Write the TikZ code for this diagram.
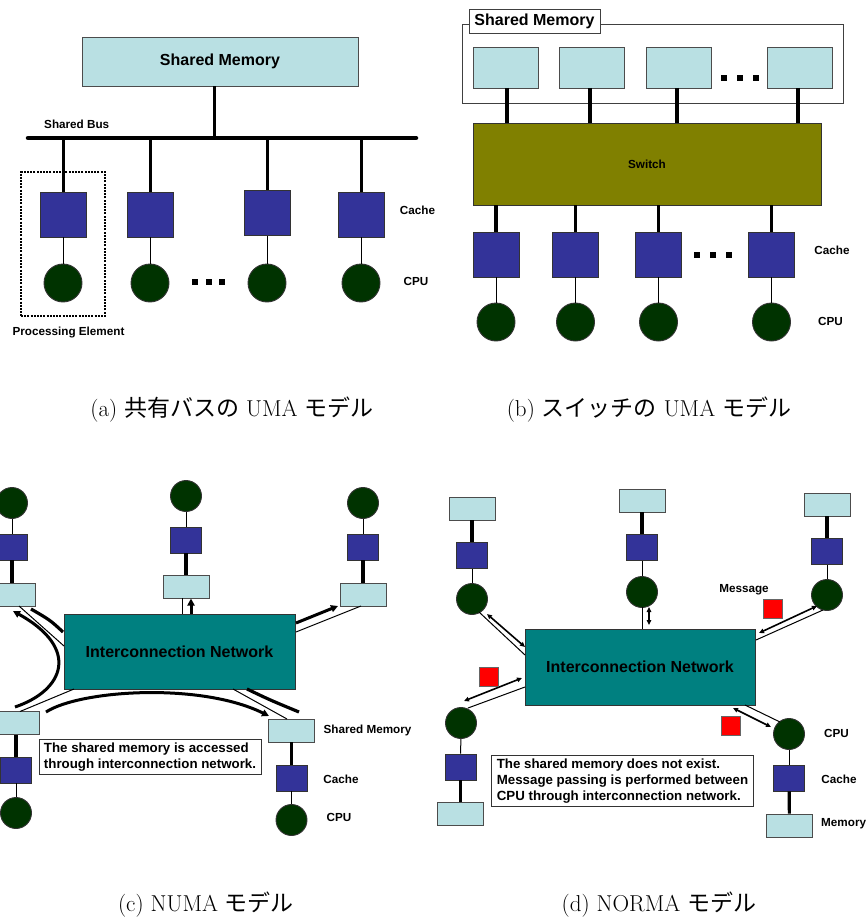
\documentclass[tikz,border=0pt]{standalone}
\usepackage{fontspec}
\newfontfamily\lab{Liberation Sans}
\newfontfamily\cjk{Noto Sans CJK JP}
\usetikzlibrary{arrows.meta}
\definecolor{memc}{RGB}{185,224,227}
\definecolor{cachec}{RGB}{51,51,153}
\definecolor{cpuc}{RGB}{0,51,0}
\definecolor{swc}{RGB}{128,128,0}
\definecolor{netc}{RGB}{0,128,128}
\tikzset{
 mem/.style={draw=black!70, fill=memc, line width=0.9pt, inner sep=0pt},
 cache/.style={draw=black!80, fill=cachec, line width=0.9pt, inner sep=0pt},
 cpu/.style={circle, draw=black!80, fill=cpuc, line width=0.9pt, inner sep=0pt},
 smem/.style={mem, minimum width=46pt, minimum height=23pt},
 scache/.style={cache, minimum width=31pt, minimum height=26pt},
 scpu/.style={cpu, minimum size=31pt},
 lbl/.style={font=\lab\bfseries\fontsize{11.7}{14}\selectfont, inner sep=0pt},
 big/.style={font=\lab\bfseries\fontsize{16}{19}\selectfont},
 note/.style={draw=black!80, fill=white, line width=0.9pt, font=\lab\bfseries\fontsize{13.3}{16}\selectfont, align=left, inner xsep=5pt, inner ysep=3pt},
 dotsq/.style={fill=black, minimum size=6pt, inner sep=0pt},
 fat/.style={line width=3.2pt},
 slim/.style={line width=1pt},
 fatarrow/.style={line width=3pt, -{Triangle[length=7pt,width=7pt]}},
 dblarrow/.style={line width=1.6pt, {Triangle[length=5pt,width=4.5pt]}-{Triangle[length=5pt,width=4.5pt]}},
 capt/.style={font=\fontsize{23}{27}\selectfont, inner sep=0pt},
 redsq/.style={draw=black!60, fill=red, minimum size=19pt, inner sep=0pt, line width=0.6pt},
}
\begin{document}
\begin{tikzpicture}[x=1pt,y=-1pt]
\useasboundingbox (0,0) rectangle (866,920);
\begin{scope}
\clip (0,0) rectangle (866,920);
% ================= (a) =================
\node[mem, big, minimum width=276pt, minimum height=49pt] (smA) at (220,61.5) {Shared Memory};
\coordinate (busL) at (28,138);
\coordinate (busR) at (416,138);
\coordinate (busJ) at (214,138);
\draw[line width=3pt] (busJ |- smA.south) -- (busJ);
\draw[line width=4.5pt, line cap=round] (busL) -- (busR);
\foreach \i/\x/\y in {1/63/214.5, 2/150/214.5, 3/267/213, 4/361/214.5} {
  \node[cache, minimum width=46pt, minimum height=45pt] (ca\i) at (\x,\y) {};
  \node[cpu, minimum size=38pt] (pa\i) at (\x,283) {};
  \draw[line width=3pt] (ca\i.north |- busL) -- (ca\i.north);
  \draw[slim] (ca\i) -- (pa\i);
}
\foreach \x in {195,209,222} \node[dotsq] at (\x,282) {};
\node[draw, line width=2pt, dash pattern=on 2pt off 1.2pt, minimum width=84pt, minimum height=144pt, inner sep=0pt] (peA) at (63,244) {};
\node[lbl, anchor=west] (busLbl) at (44,124) {Shared Bus};
\node[lbl] (cacheLblA) at (417.5,210) {Cache};
\node[lbl] (cpuLblA) at (416,281) {CPU};
\node[lbl] (peLbl) at (68.5,332) {Processing Element};
% ================= (b) =================
\node[draw=black!75, line width=0.9pt, minimum width=381pt, minimum height=79pt, inner sep=0pt] (frameB) at (652.5,63.5) {};
\node[draw=black!75, fill=white, line width=0.9pt, big, minimum width=131pt, minimum height=24pt, inner sep=0pt] (smLblB) at (534.5,21) {Shared Memory};
\node[draw=black!80, fill=swc, line width=0.9pt, minimum width=348pt, minimum height=82pt, inner sep=0pt, lbl] (sw) at (647,164) {Switch};
\foreach \i/\x in {1/505.5, 2/592, 3/679, 4/800} {
  \node[mem, minimum width=65pt, minimum height=41pt] (mb\i) at (\x,67.5) {};
}
\foreach \i/\x in {1/507, 2/590, 3/677, 4/798} {
  \draw[line width=3.2pt] (\x,88) -- (\x,123);
}
\foreach \x in {724,740,756} \node[dotsq] at (\x,78) {};
\foreach \i/\x in {1/496, 2/575.5, 3/658.5, 4/771.5} {
  \node[cache, minimum width=46pt, minimum height=45pt] (cb\i) at (\x,254.5) {};
  \node[cpu, minimum size=38pt] (pb\i) at (\x,322) {};
  \draw[line width=3.2pt] (cb\i.north |- sw.south) -- (cb\i.north);
  \draw[slim] (cb\i) -- (pb\i);
}
\foreach \x in {697,713,729} \node[dotsq] at (\x,255) {};
\node[lbl] (cacheLblB) at (832,250) {Cache};
\node[lbl] (cpuLblB) at (830.5,321) {CPU};
% captions (a),(b)
\node[capt] (capA) at (232,410) {(a) {\cjk 共有バスの} UMA {\cjk モデル}};
\node[capt] (capB) at (649,410) {(b) {\cjk スイッチの} UMA {\cjk モデル}};
% ================= (c) =================
\node[draw=black!80, fill=netc, line width=0.9pt, minimum width=231pt, minimum height=75pt, inner sep=0pt, big] (netC) at (179.5,651.5) {Interconnection Network};
% top-left PE
\node[scpu] (c1p) at (12,503) {};
\node[scache] (c1c) at (12,547) {};
\node[smem] (c1m) at (12,594.5) {};
% top-mid PE
\node[scpu] (c2p) at (186,496) {};
\node[scache] (c2c) at (186,540) {};
\node[smem] (c2m) at (186,586.5) {};
% top-right PE
\node[scpu] (c3p) at (363,503) {};
\node[scache] (c3c) at (363,547) {};
\node[smem] (c3m) at (363,594.5) {};
% bottom-left PE
\node[smem] (c4m) at (16,723) {};
\node[scache] (c4c) at (16,770) {};
\node[scpu] (c4p) at (16,813) {};
% bottom-right PE
\node[smem] (c5m) at (291.5,730.5) {};
\node[scache] (c5c) at (291.5,778) {};
\node[scpu] (c5p) at (291.5,820) {};
\foreach \n in {1,2,3,4,5} {
  \draw[slim] (c\n p) -- (c\n c);
  \draw[fat] (c\n c) -- (c\n m);
}
% connectors (c)
\draw[slim] (182,598) -- (182,614);
\draw[fatarrow] (191,614) -- (191,598.5);
\draw[slim] (296,632) -- (361,606);
\draw[fatarrow] (296,623) -- (338,606);
\draw[slim] (19,606) -- (64,646);
\draw[fat] (31,609) .. controls (50,620) .. (63,632);
\draw[fatarrow] (15,707) .. controls (65,690) and (80,648) .. (13,611);
\draw[slim] (20,711.5) -- (74,689);
\draw[fatarrow] (46,712) .. controls (80,690) and (200,682) .. (269,716);
\draw[slim] (233,689) -- (287,719);
\draw[fat] (247,689) .. controls (270,700) .. (299,712);
\node[note] (noteC) at (150,757) {The shared memory is accessed\\through interconnection network.};
\node[lbl] (smLblC) at (367.5,730) {Shared Memory};
\node[lbl] (cacheLblC) at (341,779) {Cache};
\node[lbl] (cpuLblC) at (339,817) {CPU};
% ================= (d) =================
\node[draw=black!80, fill=netc, line width=0.9pt, minimum width=230pt, minimum height=76pt, inner sep=0pt, big] (netD) at (640,667) {Interconnection Network};
% top-left
\node[smem] (d1m) at (472,508.5) {};
\node[scache] (d1c) at (472,555.5) {};
\node[scpu] (d1p) at (472,599) {};
% top-mid
\node[smem] (d2m) at (642,500.5) {};
\node[scache] (d2c) at (642,547.5) {};
\node[scpu] (d2p) at (642,592) {};
% top-right
\node[smem] (d3m) at (827,504.5) {};
\node[scache] (d3c) at (827,551.5) {};
\node[scpu] (d3p) at (827,595) {};
% bottom-left
\node[scpu] (d4p) at (461,723) {};
\node[scache] (d4c) at (460.5,767) {};
\node[smem] (d4m) at (460.5,814) {};
% bottom-right
\node[scpu] (d5p) at (789,734) {};
\node[scache] (d5c) at (789,778) {};
\node[smem] (d5m) at (789.5,825.5) {};
\foreach \n in {1,2,3,4,5} {
  \draw[slim] (d\n p) -- (d\n c);
  \draw[fat] (d\n c) -- (d\n m);
}
% connectors (d)
\draw[slim] (479,612) -- (525,655);
\draw[dblarrow] (487,614) -- (525,647);
\draw[slim] (642,607) -- (642,629);
\draw[dblarrow] (649,607) -- (649,625);
\draw[slim] (823,610) -- (756,640);
\draw[dblarrow] (759,633) -- (817,606);
\draw[slim] (468,708) -- (525,687);
\draw[dblarrow] (464,701) -- (522,678);
\draw[slim] (745,705) -- (780,722);
\draw[dblarrow] (733,708) -- (771,727);
\node[redsq] (msg1) at (772.5,608.5) {};
\node[redsq] (msg2) at (488.5,676.5) {};
\node[redsq] (msg3) at (731,726) {};
\node[note] (noteD) at (622.5,781) {The shared memory does not exist.\\Message passing is performed between\\CPU through interconnection network.};
\node[lbl] (msgLbl) at (744,590) {Message};
\node[lbl] (cpuLblD) at (836.5,733) {CPU};
\node[lbl] (cacheLblD) at (839,779) {Cache};
\node[lbl, anchor=west] (memLblD) at (821,824) {Memory};
% captions (c),(d)
\node[capt] (capC) at (206,905) {(c) NUMA {\cjk モデル}};
\node[capt] (capD) at (659,905) {(d) NORMA {\cjk モデル}};
\end{scope}
\end{tikzpicture}
\end{document}
